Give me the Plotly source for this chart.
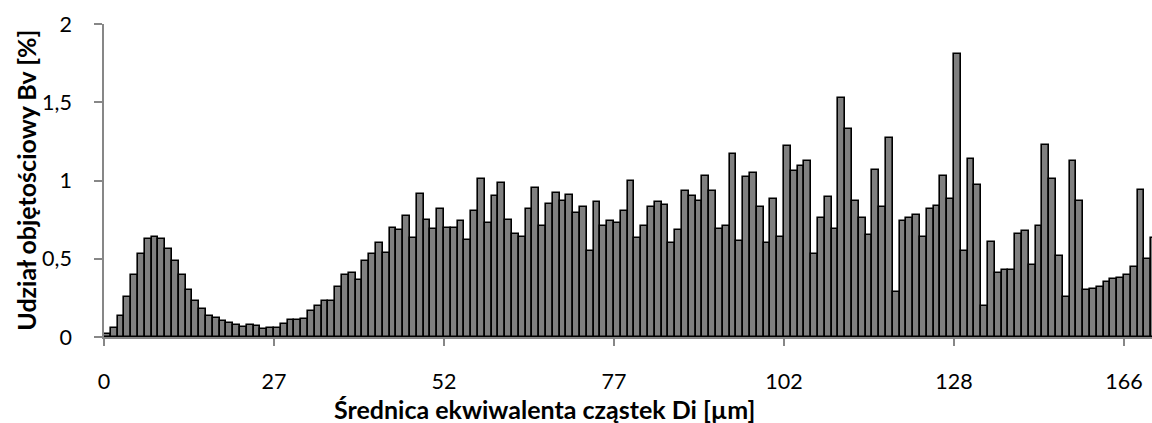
import plotly.graph_objects as go

# Bar values (volume share Bv [%]) for consecutive diameter classes
bv_values = [
    0.02, 0.059, 0.137, 0.258, 0.399, 0.531, 0.628, 0.641, 0.628, 0.56,
    0.488, 0.399, 0.30, 0.228, 0.177, 0.137, 0.12, 0.101, 0.088, 0.078,
    0.063, 0.078, 0.069, 0.048, 0.055, 0.055, 0.08, 0.107, 0.107, 0.118,
    0.165, 0.201, 0.228, 0.228, 0.318, 0.399, 0.41, 0.367, 0.488, 0.531,
    0.598, 0.537, 0.699, 0.686, 0.771, 0.63, 0.911, 0.75, 0.69, 0.82,
    0.699, 0.699, 0.739, 0.62, 0.803, 1.011, 0.728, 0.903, 0.981, 0.75,
    0.658, 0.639, 0.82, 0.949, 0.707, 0.85, 0.922, 0.871, 0.909, 0.79,
    0.828, 0.55, 0.86, 0.707, 0.739, 0.728, 0.803, 1.0, 0.633, 0.707,
    0.83, 0.86, 0.841, 0.601, 0.681, 0.93, 0.903, 0.871, 1.03, 0.93,
    0.69, 0.711, 1.169, 0.611, 1.02, 1.048, 0.83, 0.601, 0.882, 0.639,
    1.222, 1.058, 1.09, 1.122, 0.528, 0.758, 0.892, 0.69, 1.53, 1.332,
    0.871, 0.76, 0.65, 1.069, 0.828, 1.27, 0.286, 0.741, 0.76, 0.779,
    0.639, 0.82, 0.839, 1.03, 0.879, 1.81, 0.55, 1.139, 0.971, 0.199,
    0.609, 0.41, 0.425, 0.43, 0.66, 0.68, 0.46, 0.711, 1.23, 1.011,
    0.518, 0.258, 1.122, 0.871, 0.301, 0.309, 0.32, 0.35, 0.369, 0.38,
    0.399, 0.45, 0.941, 0.499, 0.63,
]
class_index = list(range(len(bv_values)))

# x-axis labels (diameter Di [µm]) shown every 25 classes
x_tick_positions = [0, 25, 50, 75, 100, 125, 150]
x_tick_labels = ["0", "27", "52", "77", "102", "128", "166"]

y_tick_values = [0, 0.5, 1, 1.5, 2]
y_tick_labels = ["0", "0,5", "1", "1,5", "2"]

FONT = "Lato"
AXIS_GRAY = "#878787"
TICK_SIZE = 21.5
TITLE_SIZE = 25

fig = go.Figure(
    go.Bar(
        x=[i + 0.5 for i in class_index],
        y=bv_values,
        width=1,
        marker=dict(color="#808080", line=dict(color="#000000", width=1.6)),
        hoverinfo="y",
    )
)

W, H = 1152, 423
L, R, T, B = 104, 0, 24, 85.5
plot_w = W - L - R
px_per_class = 6.8

fig.update_layout(
    width=W,
    height=H,
    margin=dict(l=L, r=R, t=T, b=B, pad=0, autoexpand=False),
    paper_bgcolor="white",
    plot_bgcolor="white",
    bargap=0,
    showlegend=False,
    font=dict(family=FONT, size=TICK_SIZE, color="#000000"),
)

fig.update_xaxes(
    range=[0, plot_w / px_per_class],
    tickmode="array",
    tickvals=x_tick_positions,
    ticktext=x_tick_labels,
    ticks="outside",
    ticklen=7,
    tickcolor=AXIS_GRAY,
    tickwidth=1.5,
    showline=True,
    linecolor=AXIS_GRAY,
    linewidth=1.5,
    showgrid=False,
    zeroline=False,
    automargin=False,
    ticklabelstandoff=17,
    tickfont=dict(family=FONT, size=TICK_SIZE),
)

fig.update_yaxes(
    range=[0, 2],
    tickmode="array",
    tickvals=y_tick_values,
    ticktext=y_tick_labels,
    ticks="outside",
    ticklen=8,
    tickcolor=AXIS_GRAY,
    tickwidth=1.5,
    showline=True,
    linecolor=AXIS_GRAY,
    linewidth=1.5,
    showgrid=False,
    zeroline=False,
    automargin=False,
    ticklabelstandoff=18,
    tickfont=dict(family=FONT, size=TICK_SIZE),
)

fig.add_annotation(
    text="<b>Średnica ekwiwalenta cząstek Di [µm]</b>",
    xref="paper", yref="paper",
    x=(544 - L) / plot_w, y=(H - B - 410) / (H - T - B),
    xanchor="center", yanchor="middle",
    showarrow=False,
    font=dict(family=FONT, size=TITLE_SIZE, color="#000000"),
)

fig.add_annotation(
    text="<b>Udział objętościowy Bv [%]</b>",
    xref="paper", yref="paper",
    x=(26 - L) / plot_w, y=(H - B - 181) / (H - T - B),
    xanchor="center", yanchor="middle",
    textangle=-90,
    showarrow=False,
    font=dict(family=FONT, size=TITLE_SIZE, color="#000000"),
)

fig.write_html(
    "out.html",
    config={"displayModeBar": False},
    post_script="document.body.style.margin='0';document.body.style.overflow='hidden';",
)
